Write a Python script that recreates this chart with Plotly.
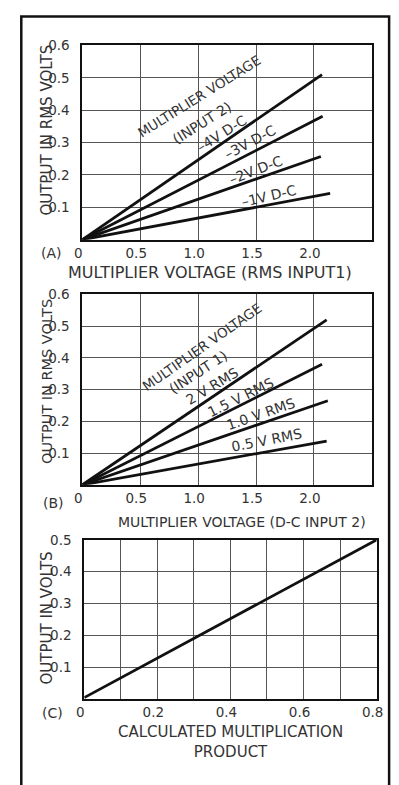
import plotly.graph_objects as go

# The page body has an 8px default margin, so the figure is drawn 8px in
# from the top-left of the 399x785 window.
OFF = 8
FW, FH = 399 - OFF, 785 - OFF

# ---------------- data ----------------
# Panel A: output vs multiplier voltage (RMS input 1), one line per D-C input 2
a_series = ["-4V D-C", "-3V D-C", "-2V D-C", "-1V D-C"]
a_x = [[0, 2.07], [0, 2.075], [0, 2.06], [0, 2.14]]
a_y = [[0, 0.51], [0, 0.381], [0, 0.257], [0, 0.143]]

# Panel B: output vs multiplier voltage (D-C input 2), one line per RMS input 1
b_series = ["2 V RMS", "1.5 V RMS", "1.0 V RMS", "0.5 V RMS"]
b_x = [[0, 2.11], [0, 2.07], [0, 2.12], [0, 2.11]]
b_y = [[0, 0.52], [0, 0.38], [0, 0.265], [0, 0.138]]

# Panel C: output vs calculated product
c_x = [0, 0.8]
c_y = [0.005, 0.5]

ab_xticks = [0, 0.5, 1.0, 1.5, 2.0]
ab_xticktext = ["0", "0.5", "1.0", "1.5", "2.0"]
ab_yticks = [0.1, 0.2, 0.3, 0.4, 0.5, 0.6]
ab_yticktext = ["0.1", "0.2", "0.3", "0.4", "0.5", "0.6"]
c_xticks = [0, 0.1, 0.2, 0.3, 0.4, 0.5, 0.6, 0.7, 0.8]
c_xticktext = ["0", "", "0.2", "", "0.4", "", "0.6", "", "0.8"]
c_yticks = [0.1, 0.2, 0.3, 0.4, 0.5]
c_yticktext = ["0.1", "0.2", "0.3", "0.4", "0.5"]

# ---------------- helpers ----------------
FONT = "DejaVu Sans"
INK = "#333"
WEIGHT = 400


def px_x(p):
    return (p - OFF) / FW


def px_y(p):
    return 1 - (p - OFF) / FH


fig = go.Figure()

for xs, ys in zip(a_x, a_y):
    fig.add_trace(go.Scatter(x=xs, y=ys, mode="lines", xaxis="x", yaxis="y",
                             line=dict(color="#111", width=2.8), showlegend=False,
                             hoverinfo="skip"))
for xs, ys in zip(b_x, b_y):
    fig.add_trace(go.Scatter(x=xs, y=ys, mode="lines", xaxis="x2", yaxis="y2",
                             line=dict(color="#111", width=2.8), showlegend=False,
                             hoverinfo="skip"))
fig.add_trace(go.Scatter(x=c_x, y=c_y, mode="lines", xaxis="x3", yaxis="y3",
                         line=dict(color="#111", width=2.8), showlegend=False,
                         hoverinfo="skip"))

tickfont = dict(family=FONT, size=13.5, color=INK, weight=WEIGHT)
axis_common = dict(showline=True, mirror=True, linecolor="#111", linewidth=2,
                   showgrid=True, gridcolor="#555", gridwidth=1, zeroline=False,
                   ticks="", tickfont=tickfont, fixedrange=True)
xcommon = dict(ticklabelstandoff=0, ticklabelshift=-4, **axis_common)
ycommon = dict(ticklabelstandoff=8, **axis_common)

fig.update_layout(
    width=FW, height=FH,
    margin=dict(l=0, r=0, t=0, b=0),
    paper_bgcolor="white", plot_bgcolor="white",
    xaxis=dict(domain=[px_x(77), px_x(378)], range=[0, 2.5], anchor="y",
               tickvals=ab_xticks, ticktext=ab_xticktext, **xcommon),
    yaxis=dict(domain=[px_y(234), px_y(37.7)], range=[0, 0.6], anchor="x",
               tickvals=ab_yticks, ticktext=ab_yticktext, **ycommon),
    xaxis2=dict(domain=[px_x(77), px_x(378)], range=[0, 2.5], anchor="y2",
                tickvals=ab_xticks, ticktext=ab_xticktext, **xcommon),
    yaxis2=dict(domain=[px_y(481.7), px_y(289.3)], range=[0, 0.6], anchor="x2",
                tickvals=ab_yticks, ticktext=ab_yticktext, **ycommon),
    xaxis3=dict(domain=[px_x(79), px_x(383)], range=[0, 0.8], anchor="y3",
                tickvals=c_xticks, ticktext=c_xticktext, **xcommon),
    yaxis3=dict(domain=[px_y(698.3), px_y(537.3)], range=[0, 0.5], anchor="x3",
                tickvals=c_yticks, ticktext=c_yticktext, **ycommon),
)

ann = []


def paper_text(text, x, y, size=14, angle=0):
    ann.append(dict(text=text, x=px_x(x), y=px_y(y), xref="paper", yref="paper",
                    showarrow=False, textangle=angle, xanchor="center", yanchor="middle",
                    font=dict(family=FONT, size=size, color=INK, weight=WEIGHT)))


def data_text(text, x, y, ax, angle, size=14):
    ann.append(dict(text=text, x=x, y=y, xref=ax[0], yref=ax[1], showarrow=False,
                    textangle=angle, xanchor="center", yanchor="middle",
                    font=dict(family=FONT, size=size, color=INK, weight=WEIGHT)))


# Panel A labels
data_text("MULTIPLIER VOLTAGE", 1.01, 0.445, ("x", "y"), -32, 13.5)
data_text("(INPUT 2)", 1.03, 0.36, ("x", "y"), -32, 14)
A_pos = [(1.21, 0.328, -32), (1.447, 0.303, -28), (1.497, 0.216, -21), (1.608, 0.135, -13)]
for name, (x, y, a) in zip(a_series, A_pos):
    data_text(name.replace("-", "\u2013", 1), x, y, ("x", "y"), a, 14)

# Panel B labels
data_text("MULTIPLIER VOLTAGE", 1.03, 0.435, ("x2", "y2"), -35, 13.5)
data_text("(INPUT 1)", 1.0, 0.356, ("x2", "y2"), -33, 14)
B_pos = [(1.122, 0.312, -31), (1.372, 0.276, -26), (1.539, 0.224, -19), (1.594, 0.14, -11)]
for name, (x, y, a) in zip(b_series, B_pos):
    data_text(name, x, y, ("x2", "y2"), a, 14)

# axis titles & panel letters
paper_text("OUTPUT IN RMS VOLTS", 40, 123, 15, -90)
paper_text("OUTPUT IN RMS VOLTS", 40, 377, 14.5, -90)
paper_text("OUTPUT IN VOLTS", 40, 616, 15, -90)
paper_text("MULTIPLIER VOLTAGE (RMS INPUT1)", 210, 267, 16)
paper_text("MULTIPLIER VOLTAGE (D-C INPUT 2)", 243, 519, 14)
paper_text("CALCULATED MULTIPLICATION<br>PRODUCT", 231, 742, 15)
paper_text("(A)", 45, 247, 14)
paper_text("(B)", 47, 500, 14)
paper_text("(C)", 46, 712, 14)

fig.update_layout(annotations=ann)

# outer frame
fig.add_shape(type="rect", xref="paper", yref="paper",
              x0=px_x(13.5), x1=px_x(396), y0=px_y(800), y1=px_y(8.5),
              line=dict(color="#111", width=2.5))

fig.write_html("out.html", config={"displayModeBar": False, "staticPlot": True})
